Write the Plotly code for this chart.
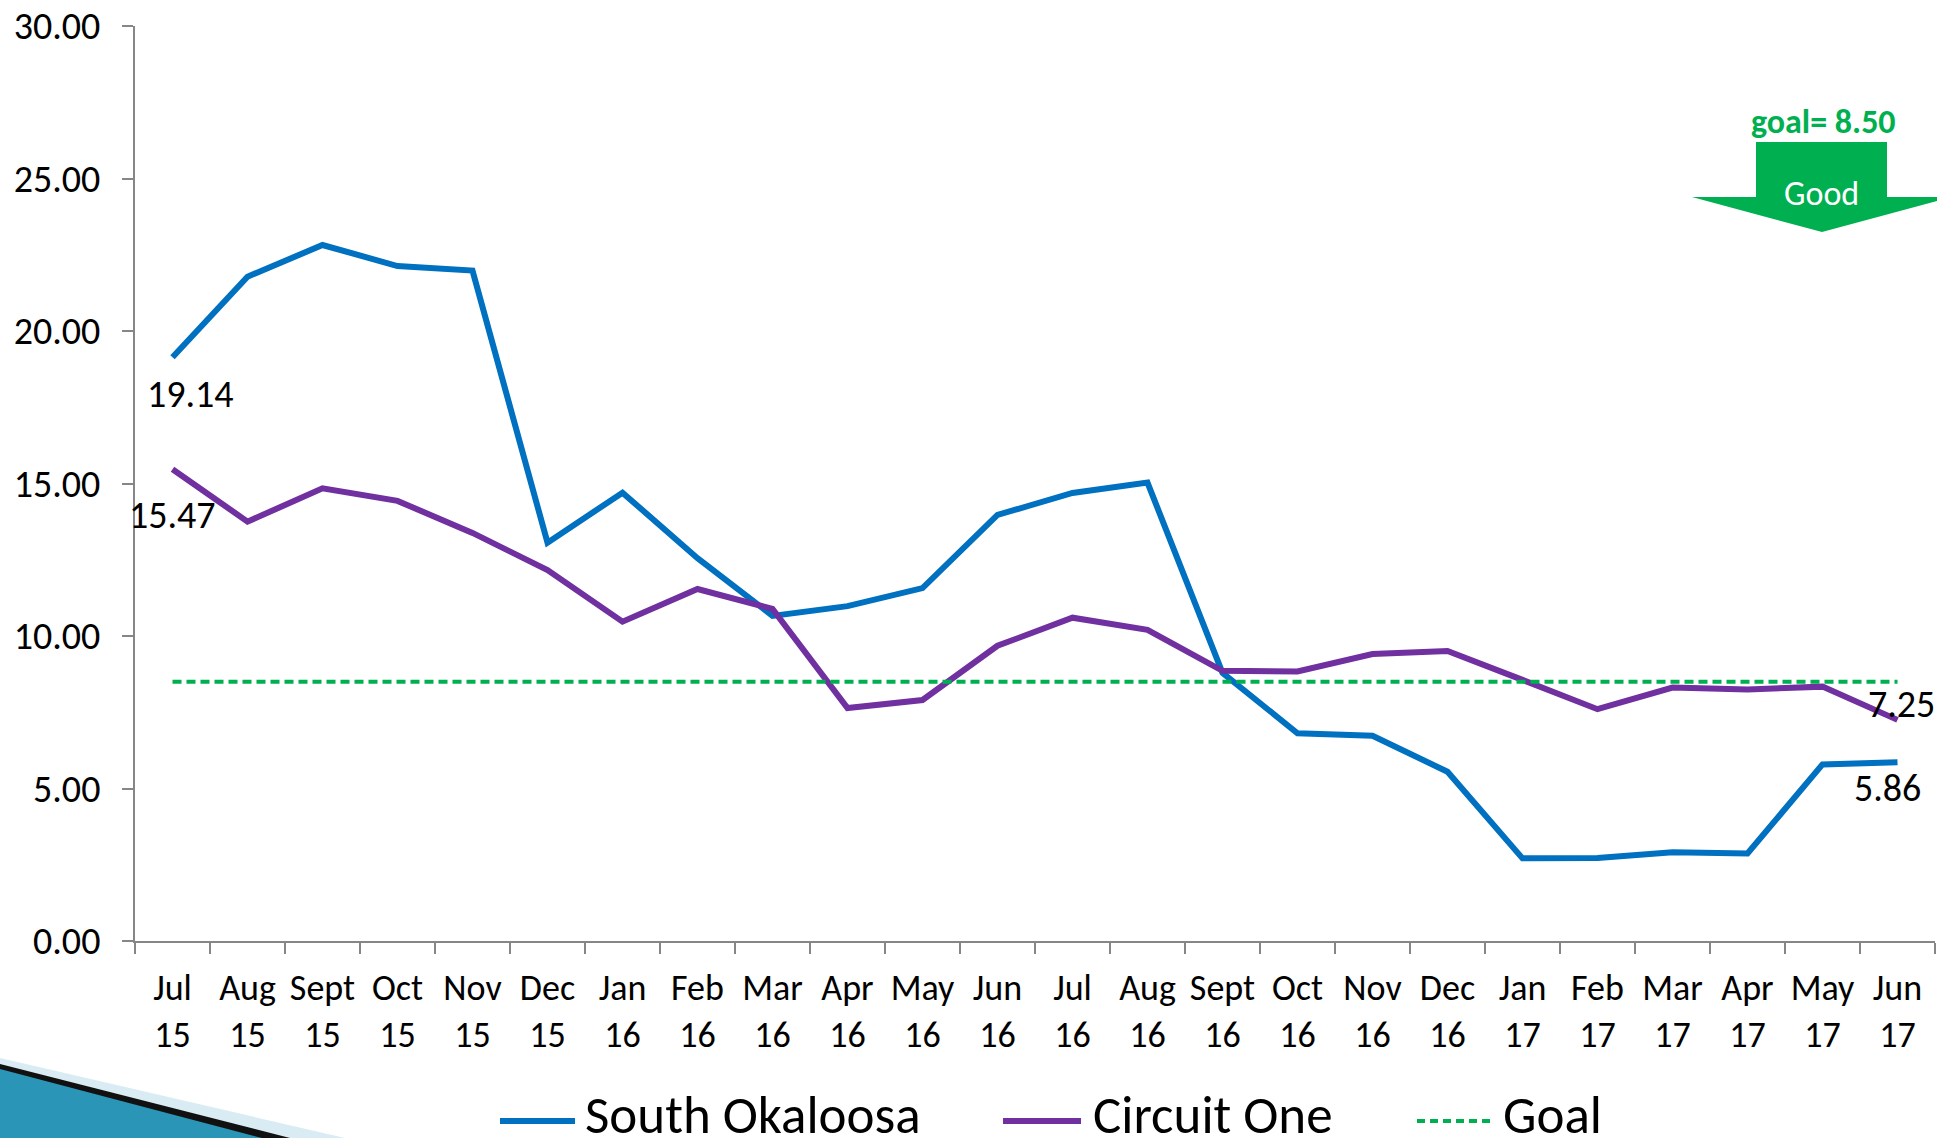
import plotly.graph_objects as go

months = ["Jul", "Aug", "Sept", "Oct", "Nov", "Dec", "Jan", "Feb", "Mar", "Apr", "May", "Jun",
          "Jul", "Aug", "Sept", "Oct", "Nov", "Dec", "Jan", "Feb", "Mar", "Apr", "May", "Jun"]
years = ["15"] * 6 + ["16"] * 12 + ["17"] * 6
categories = [f"{m}<br>{y}" for m, y in zip(months, years)]

south_okaloosa = [19.14, 21.78, 22.82, 22.13, 21.98, 13.06, 14.70, 12.55, 10.66, 10.98, 11.57, 13.97,
                  14.69, 15.03, 8.79, 6.81, 6.73, 5.55, 2.71, 2.72, 2.91, 2.87, 5.79, 5.86]
circuit_one = [15.47, 13.75, 14.84, 14.43, 13.38, 12.16, 10.47, 11.54, 10.89, 7.64, 7.90, 9.68,
               10.60, 10.20, 8.86, 8.84, 9.41, 9.51, 8.56, 7.60, 8.31, 8.25, 8.34, 7.25]
goal = [8.50] * 24

BLUE = "#0070C0"
PURPLE = "#7030A0"
GREEN = "#00B050"
FONT = "Carlito, Lato, 'Open Sans', sans-serif"

W, H = 1937, 1138
L, R, T, B = 135, 2, 26, 197
PW, PH = W - L - R, H - T - B


def px(x):
    return (x - L) / PW


def py(y):
    return (H - B - y) / PH


fig = go.Figure()
fig.add_trace(go.Scatter(x=categories, y=south_okaloosa, mode="lines", name="South Okaloosa",
                         line=dict(color=BLUE, width=6)))
fig.add_trace(go.Scatter(x=categories, y=circuit_one, mode="lines", name="Circuit One",
                         line=dict(color=PURPLE, width=6)))
fig.add_trace(go.Scatter(x=categories, y=goal, mode="lines", name="Goal",
                         line=dict(color=GREEN, width=4, dash="9px,5px")))

annotations = []
# data labels
lab = dict(showarrow=False, font=dict(family=FONT, size=38, color="black"), xref="x", yref="y")
annotations.append(dict(x=categories[0], y=south_okaloosa[0], text=f"{south_okaloosa[0]:.2f}",
                        xshift=18, yshift=-37, **lab))
annotations.append(dict(x=categories[0], y=circuit_one[0], text=f"{circuit_one[0]:.2f}",
                        xshift=0, yshift=-46, **lab))
annotations.append(dict(x=categories[-1], y=circuit_one[-1], text=f"{circuit_one[-1]:.2f}",
                        xshift=4, yshift=16, **lab))
annotations.append(dict(x=categories[-1], y=south_okaloosa[-1], text=f"{south_okaloosa[-1]:.2f}",
                        xshift=-10, yshift=-26, **lab))

# goal arrow texts
annotations.append(dict(x=px(1823), y=py(121), xref="paper", yref="paper", showarrow=False,
                        text="<b>goal= 8.50</b>", font=dict(family=FONT, size=34, color=GREEN),
                        xanchor="center", yanchor="middle"))
annotations.append(dict(x=px(1821), y=py(193), xref="paper", yref="paper", showarrow=False,
                        text="Good", font=dict(family=FONT, size=34, color="white"),
                        xanchor="center", yanchor="middle"))

# custom legend
leg_y = 1115
legend_items = [("South Okaloosa", BLUE, "solid", 500, 575, 583),
                ("Circuit One", PURPLE, "solid", 1003, 1081, 1091),
                ("Goal", GREEN, "dot", 1417, 1495, 1501)]
shapes = []
for name, col, dash, x0, x1, tx in legend_items:
    shapes.append(dict(type="line", xref="paper", yref="paper", x0=px(x0), x1=px(x1),
                       y0=py(leg_y + 6), y1=py(leg_y + 6),
                       line=dict(color=col, width=6 if dash == "solid" else 4,
                                 dash="solid" if dash == "solid" else "8px,5px")))
    annotations.append(dict(x=px(tx), y=py(leg_y), xref="paper", yref="paper", showarrow=False,
                            text=name, xanchor="left", yanchor="middle",
                            font=dict(family=FONT, size=53, color="black")))

# block arrow
arrow_pts = [(1756, 142), (1887, 142), (1887, 197), (1952, 197), (1822, 232),
             (1692, 197), (1756, 197)]
path = "M " + " L ".join(f"{px(x)},{py(y)}" for x, y in arrow_pts) + " Z"
shapes.append(dict(type="path", xref="paper", yref="paper", path=path,
                   fillcolor=GREEN, line=dict(width=0), layer="below"))

# decorative corner wedge
for pts, col in [([(0, 1058), (345, 1138), (0, 1138)], "#d9ecf3"),
                 ([(0, 1064), (290, 1138), (0, 1138)], "#111111"),
                 ([(0, 1069), (262, 1138), (0, 1138)], "#2a95b6")]:
    p = "M " + " L ".join(f"{px(x)},{py(y)}" for x, y in pts) + " Z"
    shapes.append(dict(type="path", xref="paper", yref="paper", path=p,
                       fillcolor=col, line=dict(width=0), layer="above"))

fig.update_layout(
    width=W, height=H,
    margin=dict(l=L, r=R, t=T, b=B, pad=0, autoexpand=False),
    paper_bgcolor="white", plot_bgcolor="white",
    showlegend=False,
    font=dict(family=FONT, size=38, color="black"),
    annotations=annotations,
    shapes=shapes,
    xaxis=dict(type="category", range=[-0.5, 23.5], showgrid=False, zeroline=False,
               showline=True, linecolor="#868686", linewidth=2,
               ticks="outside", ticklen=11, tickcolor="#868686", tickwidth=2,
               tickson="boundaries", tickangle=0, automargin=False,
               tickfont=dict(family=FONT, size=36, color="black"),
               ticklabelstandoff=14),
    yaxis=dict(range=[0, 30], dtick=5, tickformat=".2f", showgrid=False, zeroline=False,
               showline=True, linecolor="#868686", linewidth=2, automargin=False,
               ticks="outside", ticklen=11, tickcolor="#868686", tickwidth=2,
               tickfont=dict(family=FONT, size=38, color="black"), ticklabelstandoff=14),
)

fig.write_html("out.html", config={"displayModeBar": False},
               post_script="document.body.style.margin='0px';document.body.style.overflow='hidden';")
